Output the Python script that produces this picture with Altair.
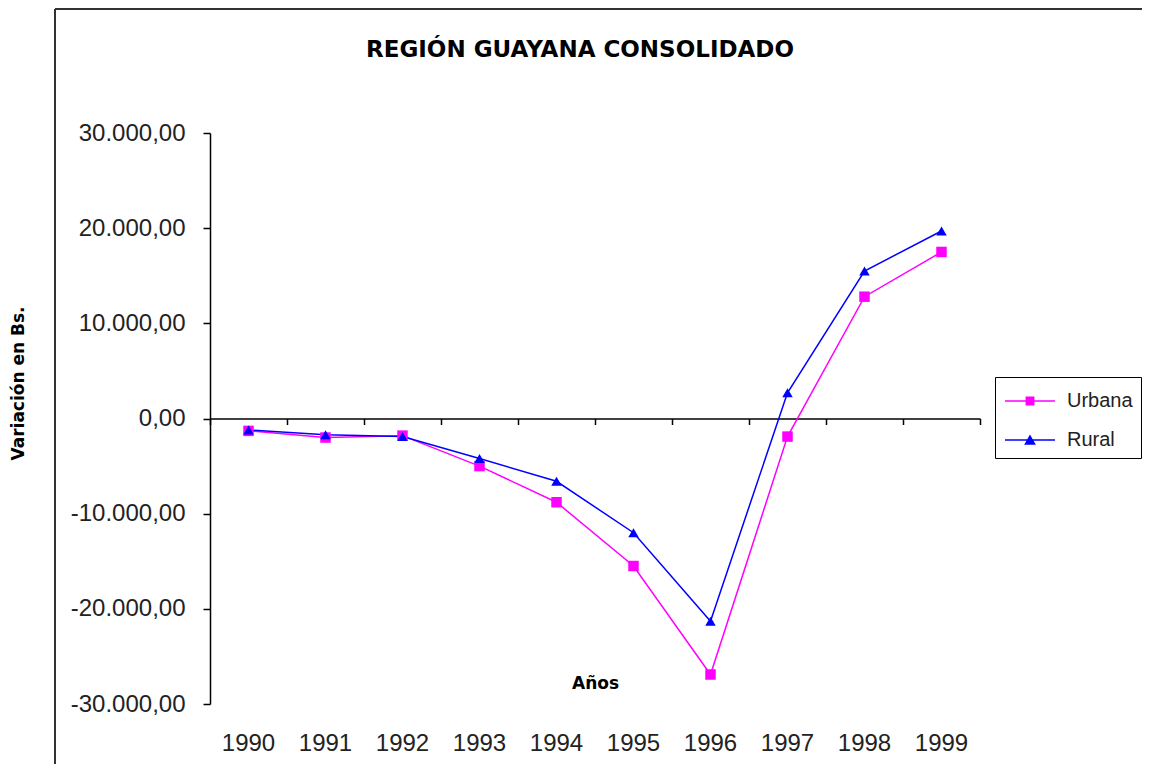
import altair as alt
import pandas as pd

years = ["1990", "1991", "1992", "1993", "1994", "1995", "1996", "1997", "1998", "1999"]
urbana = [-1300, -2000, -1800, -5000, -8800, -15500, -26900, -1900, 12800, 17500]
rural = [-1200, -1700, -1900, -4200, -6600, -12000, -21300, 2700, 15500, 19700]
series = ["Urbana", "Rural"]
colors = ["#FF00FF", "#0000FF"]
y_ticks = [-30000, -20000, -10000, 0, 10000, 20000, 30000]
title_text = "REGIÓN GUAYANA CONSOLIDADO"

rows = []
for name, vals in zip(series, [urbana, rural]):
    for yr, v in zip(years, vals):
        rows.append({"Año": yr, "Serie": name, "Valor": v})
df = pd.DataFrame(rows)

W, H = 770, 571

xscale = alt.Scale(type="band", domain=years, paddingInner=0, paddingOuter=0)
cscale = alt.Scale(domain=series, range=colors)

x_zero = alt.X("Año:O", scale=xscale, axis=alt.Axis(
    orient="bottom", offset=-H / 2, labels=False, ticks=True, tickSize=6,
    tickColor="black", tickWidth=1.5, domain=True, domainColor="black",
    domainWidth=1.5, tickBand="extent", title=None, grid=False))

x_lab = alt.X("Año:O", scale=xscale, axis=alt.Axis(
    orient="bottom", labels=True, ticks=False, domain=False, labelPadding=27,
    labelFontSize=24, labelFont="Liberation Sans", labelColor="#222",
    labelAngle=0, title="Años", titleY=-21, titleBaseline="middle",
    titleFont="DejaVu Sans", titleFontSize=17, titleFontWeight="bold",
    titleColor="black", grid=False))

y_enc = alt.Y("Valor:Q", scale=alt.Scale(domain=[-30000, 30000], nice=False, zero=False),
    axis=alt.Axis(values=y_ticks,
        labelExpr="(datum.value < 0 ? '-' : '') + replace(format(abs(datum.value), ',d'), ',', '.') + ',00'",
        labelFont="Liberation Sans", labelFontSize=24, labelColor="#222",
        labelPadding=18, tickSize=7, tickColor="black", tickWidth=1.5,
        domainColor="black", domainWidth=1.5, grid=False,
        title="Variación en Bs.", titleFont="DejaVu Sans", titleFontSize=17,
        titleFontWeight="bold", titleColor="black", titleAngle=270,
        titleX=-192, titleY=250, titleAlign="center", titleBaseline="middle"))

lines = alt.Chart(df).mark_line(strokeWidth=1.5).encode(
    x=x_zero, y=y_enc,
    color=alt.Color("Serie:N", scale=cscale, legend=None),
    detail="Serie:N")

points = alt.Chart(df).mark_point(filled=True, size=110, opacity=1).encode(
    x=x_lab, y=y_enc,
    color=alt.Color("Serie:N", scale=cscale, legend=None),
    shape=alt.Shape("Serie:N", scale=alt.Scale(domain=series, range=["square", "triangle-up"]), legend=None))

sq_path = "M-1.58,-0.05H1.58V0.05H-1.58Z M-0.28,-0.28H0.28V0.28H-0.28Z"
tri_path = "M-1.58,-0.05H1.58V0.05H-1.58Z M0,-0.34L0.37,0.3H-0.37Z"

leg = alt.Legend(orient="none", legendX=785, legendY=244, title=None,
                 labelFont="Liberation Sans", labelFontSize=20, labelColor="#222",
                 symbolSize=1000, symbolStrokeWidth=0, padding=8, rowPadding=13,
                 symbolOffset=11, labelOffset=21, strokeColor="black",
                 fillColor="white", labelLimit=300)

legend_layer = alt.Chart(df).mark_point(filled=True, size=1000, opacity=1).encode(
    color=alt.Color("Serie:N", scale=cscale, legend=leg),
    shape=alt.Shape("Serie:N", scale=alt.Scale(domain=series, range=[sq_path, tri_path]), legend=leg)
).transform_filter("false")

frame_data = alt.Data(values=[{"k": 1}])
left_rule = alt.Chart(frame_data).mark_rule(color="#333", strokeWidth=2).encode(
    x=alt.value(-155), y=alt.value(-124), y2=alt.value(H + 80))
top_rule = alt.Chart(frame_data).mark_rule(color="#333", strokeWidth=2).encode(
    x=alt.value(-155), x2=alt.value(W + 200), y=alt.value(-124))

title_layer = alt.Chart(frame_data).mark_text(
    font="DejaVu Sans", fontSize=23, fontWeight="bold", color="black",
    align="center", baseline="alphabetic").encode(
    x=alt.value(W / 2 - 15), y=alt.value(-76), text=alt.value(title_text))

chart = alt.layer(left_rule, top_rule, title_layer, lines, points, legend_layer).resolve_scale(
    color="independent", shape="independent"
).resolve_axis(x="independent").properties(
    width=W, height=H,
    padding={"left": 202, "top": 125, "right": 162, "bottom": 60},
    autosize=alt.AutoSizeParams(type="none"),
    background="white",
).configure_view(stroke="transparent", strokeWidth=0)

chart.save("out.html", embed_options={"renderer": "svg", "actions": False})
